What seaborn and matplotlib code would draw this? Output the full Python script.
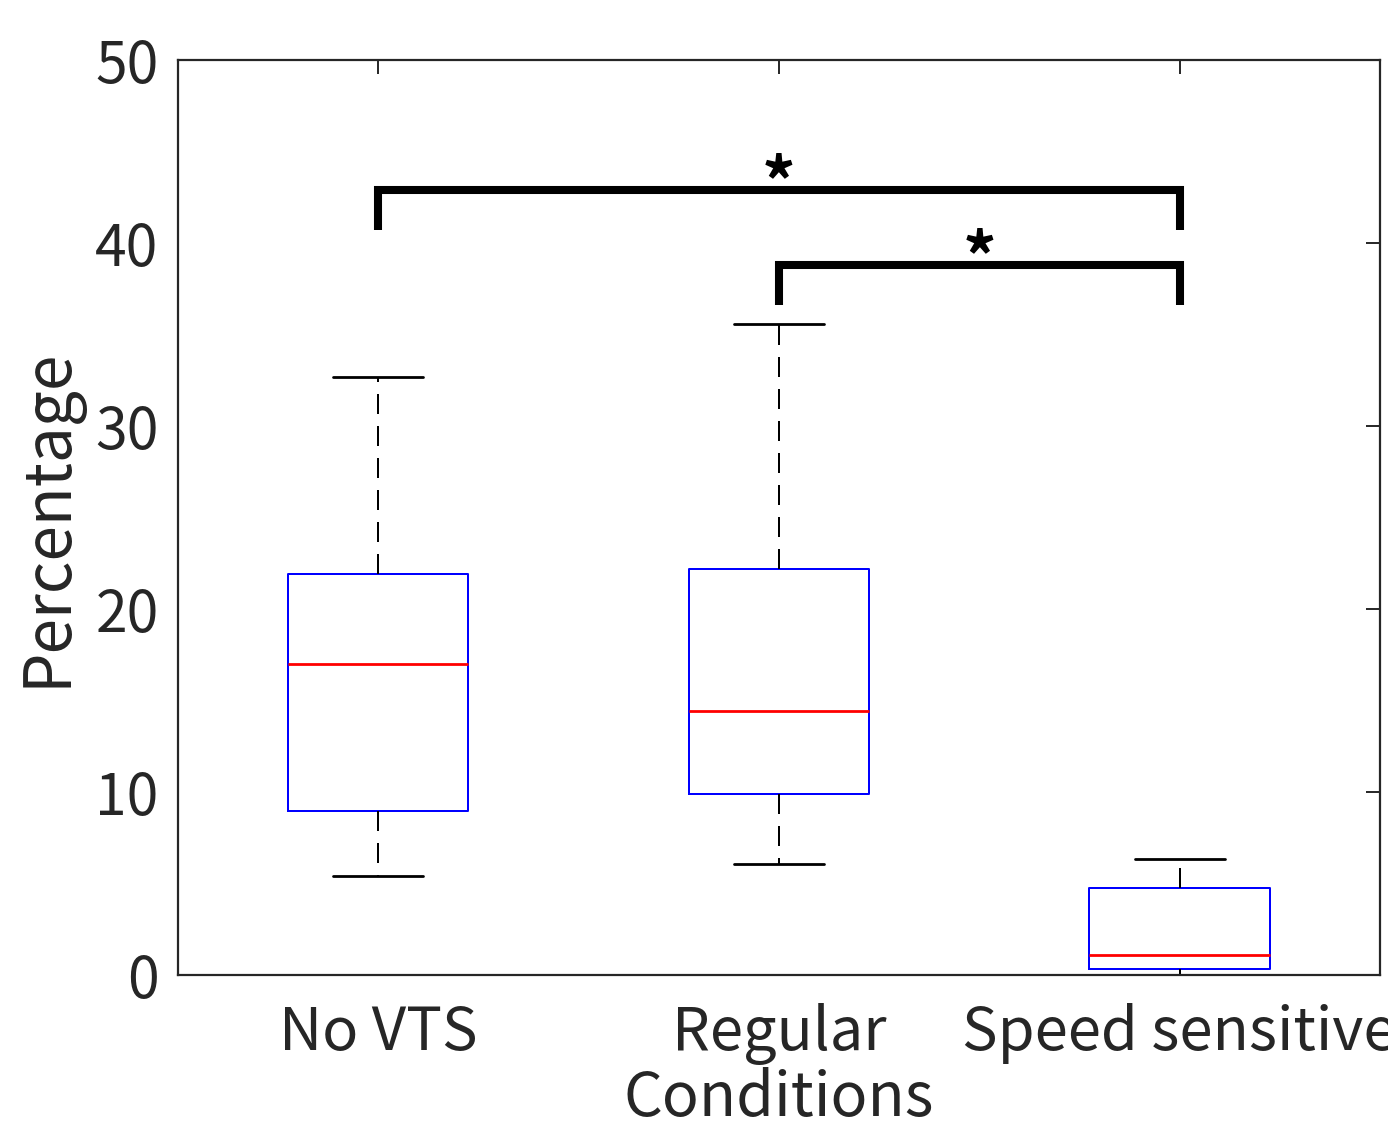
import numpy as np
import pandas as pd
import matplotlib
matplotlib.use("Agg")
import matplotlib.pyplot as plt
import seaborn as sns

# five-number summaries: low whisker, Q1, median, Q3, high whisker
conditions = ["No VTS", "Regular", "Speed sensitive"]
no_vts = [5.4, 8.96, 17.0, 21.9, 32.7]
regular = [6.07, 9.9, 14.4, 22.2, 35.6]
speed_sensitive = [0.0, 0.33, 1.09, 4.75, 6.34]

# significance brackets: (from group, to group, bar height, leg bottom)
sig_pairs = [(0, 2, 42.9, 40.7), (1, 2, 38.8, 36.6)]
sig_labels = ["*", "*"]

df = pd.DataFrame({
    "Conditions": np.repeat(conditions, 5),
    "Percentage": no_vts + regular + speed_sensitive,
})

sns.set_theme(style="white")
plt.rcParams["font.family"] = ["Noto Sans CJK JP", "DejaVu Sans"]

fig = plt.figure(figsize=(13.88, 11.32), dpi=100)
ax = fig.add_axes([0.1282, 0.1387, 0.866, 0.8083])

sns.boxplot(
    data=df, x="Conditions", y="Percentage", ax=ax,
    whis=(0, 100), width=0.45, fill=False, color="blue", linewidth=1.44,
    boxprops={"color": "blue", "linewidth": 1.44},
    whiskerprops={"color": "black", "linestyle": (0, (10, 6)), "linewidth": 1.44},
    capprops={"color": "black", "linewidth": 2.0},
    medianprops={"color": "red", "linewidth": 2.0},
)

for (a, b, h, low), lab in zip(sig_pairs, sig_labels):
    ax.plot([a, a, b, b], [low, h, h, low], color="black", lw=5.8,
            solid_joinstyle="miter", solid_capstyle="butt", clip_on=False)
    ax.text((a + b) / 2, h - 1.65, lab, ha="center", va="bottom",
            fontsize=48, fontweight="bold", color="black")

ax.set_xlim(-0.5, 2.5)
ax.set_ylim(0, 50)
ax.set_yticks([0, 10, 20, 30, 40, 50])
ax.set_xlabel("Conditions", fontsize=44, color="#262626", labelpad=2)
ax.set_ylabel("Percentage", fontsize=46, color="#262626", labelpad=10)
ax.tick_params(axis="both", colors="#262626", direction="in",
               length=10, width=1.4, top=True, right=True)
ax.tick_params(axis="x", labelsize=43, pad=20)
ax.tick_params(axis="y", labelsize=41, pad=14)
for s in ax.spines.values():
    s.set_color("#262626")
    s.set_linewidth(1.6)
    s.set_visible(True)

fig.savefig("out.png", dpi=100)
